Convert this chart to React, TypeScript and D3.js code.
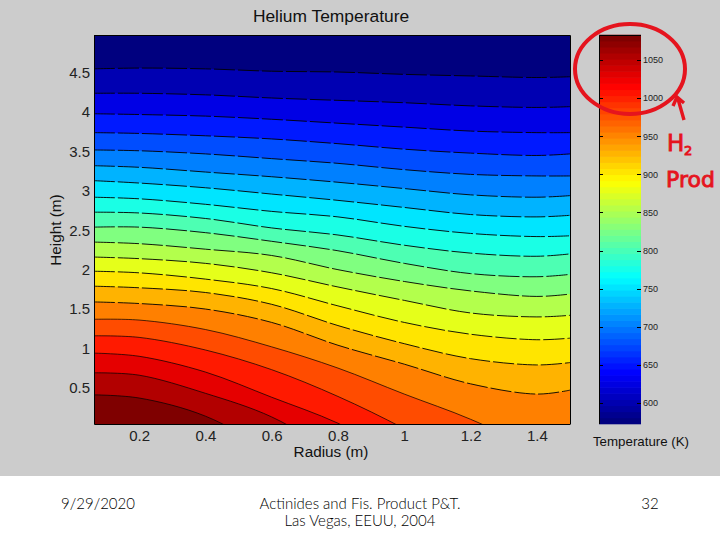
import React, { useEffect, useRef } from "react";
import * as d3 from "d3";

const radii = [0.064, 0.2, 0.4, 0.6, 0.8, 1.0, 1.2, 1.4, 1.5];

// contour heights in metres, top line first; values below the floor get clipped
const contourHeights = [
  [4.55, 4.56, 4.55, 4.52, 4.51, 4.48, 4.46, 4.44, 4.45],
  [4.24, 4.24, 4.22, 4.18, 4.15, 4.12, 4.08, 4.06, 4.07],
  [3.98, 3.97, 3.95, 3.91, 3.86, 3.81, 3.76, 3.74, 3.74],
  [3.74, 3.73, 3.7, 3.66, 3.6, 3.53, 3.48, 3.45, 3.47],
  [3.52, 3.51, 3.47, 3.41, 3.35, 3.27, 3.21, 3.19, 3.19],
  [3.32, 3.3, 3.24, 3.18, 3.11, 3.03, 2.95, 2.92, 2.94],
  [3.13, 3.1, 3.04, 2.96, 2.88, 2.79, 2.7, 2.67, 2.69],
  [2.92, 2.9, 2.83, 2.74, 2.67, 2.55, 2.46, 2.42, 2.43],
  [2.73, 2.72, 2.65, 2.53, 2.44, 2.31, 2.21, 2.17, 2.2],
  [2.54, 2.54, 2.47, 2.36, 2.24, 2.08, 1.95, 1.91, 1.94],
  [2.35, 2.33, 2.26, 2.18, 2.0, 1.85, 1.73, 1.66, 1.69],
  [2.16, 2.14, 2.08, 1.96, 1.78, 1.61, 1.45, 1.4, 1.42],
  [1.98, 1.96, 1.88, 1.76, 1.54, 1.33, 1.18, 1.11, 1.13],
  [1.79, 1.77, 1.71, 1.56, 1.29, 1.06, 0.87, 0.79, 0.82],
  [1.59, 1.57, 1.5, 1.33, 1.04, 0.8, 0.55, 0.42, 0.47],
  [1.37, 1.36, 1.24, 1.02, 0.75, 0.42, 0.1, -0.3, -0.6],
  [1.16, 1.14, 0.98, 0.73, 0.39, -0.02, -0.5, -0.9, -1.1],
  [0.94, 0.9, 0.7, 0.38, 0.05, -0.4, -0.9, -1.4, -1.6],
  [0.69, 0.66, 0.43, 0.13, -0.36, -0.9, -1.4, -1.9, -2.1],
  [0.41, 0.37, 0.14, -0.32, -0.9, -1.4, -1.9, -2.4, -2.6],
];

const radiusTicks = [0.2, 0.4, 0.6, 0.8, 1, 1.2, 1.4];
const heightTicks = [0.5, 1, 1.5, 2, 2.5, 3, 3.5, 4, 4.5];
const temperatureTicks = [600, 650, 700, 750, 800, 850, 900, 950, 1000, 1050];

// matlab jet
const jet = d3
  .scaleLinear<string>()
  .domain([0, 0.125, 0.375, 0.625, 0.875, 1])
  .range(["#00007f", "#0000ff", "#00ffff", "#ffff00", "#ff0000", "#7f0000"]);

const sans = "'Liberation Sans', Arial, sans-serif";
const fmt = (d: d3.NumberValue) => String(+d);

export default function App() {
  const svgRef = useRef<SVGSVGElement | null>(null);

  useEffect(() => {
    const svg = d3.select(svgRef.current);
    svg.selectAll("*").remove();

    svg.append("rect").attr("width", 720).attr("height", 476).attr("fill", "#cccccc");
    svg.append("rect").attr("y", 476).attr("width", 720).attr("height", 64).attr("fill", "#ffffff");

    const x = d3.scaleLinear().domain([0.064, 1.5]).range([94, 570]);
    const y = d3.scaleLinear().domain([0.04, 4.98]).range([424, 35]);

    svg.append("clipPath").attr("id", "plot")
      .append("rect").attr("x", 94).attr("y", 35).attr("width", 476).attr("height", 389);

    const plot = svg.append("g").attr("clip-path", "url(#plot)");
    plot.append("rect").attr("x", 94).attr("y", 35).attr("width", 476).attr("height", 389).attr("fill", jet(0));

    const curve = d3.curveCatmullRom.alpha(0.5);
    const area = d3.area<number>()
      .x((_, i) => x(radii[i]))
      .y0(424)
      .y1(d => y(d))
      .curve(curve);
    const line = d3.line<number>()
      .x((_, i) => x(radii[i]))
      .y(d => y(d))
      .curve(curve);

    // Bands, painted top down, each one reaching to the floor
    contourHeights.forEach((row, i) => {
      plot.append("path").attr("d", area(row)).attr("fill", jet((i + 1) / 20));
    });
    contourHeights.forEach((row, i) => {
      plot.append("path")
        .attr("d", line(row))
        .attr("fill", "none")
        .attr("stroke", "#000")
        .attr("stroke-width", i < 15 ? 0.9 : 0.7)
        .attr("stroke-dasharray", i < 15 ? "21 3" : null);
    });

    // Axes
    const xAxis = svg.append("g")
      .attr("transform", "translate(0,424)")
      .call(d3.axisBottom(x).tickValues(radiusTicks).tickSize(0).tickPadding(6).tickFormat(fmt));
    const yAxis = svg.append("g")
      .attr("transform", "translate(94,0)")
      .call(d3.axisLeft(y).tickValues(heightTicks).tickSize(0).tickPadding(4).tickFormat(fmt));
    [xAxis, yAxis].forEach(a => {
      a.selectAll("text").attr("font-family", sans).attr("font-size", 15).attr("fill", "#222");
      a.select(".domain").attr("stroke", "#000");
    });
    svg.append("path").attr("d", "M94,35.5H570.5V424").attr("fill", "none").attr("stroke", "#000");

    // Colorbar
    const temp = d3.scaleLinear().domain([572.6, 1082.6]).range([424, 35]);
    const cells = d3.scaleBand<number>().domain(d3.range(64)).range([424, 35]);
    svg.append("g").selectAll("rect").data(d3.range(64)).enter().append("rect")
      .attr("x", 599)
      .attr("y", d => cells(d)! - 0.3)
      .attr("width", 42)
      .attr("height", cells.bandwidth() + 0.6)
      .attr("fill", d => jet(d / 63));
    svg.append("path").attr("d", "M599.5,424V35.5H641").attr("fill", "none").attr("stroke", "#000");

    const cbAxis = svg.append("g")
      .attr("transform", "translate(641,0)")
      .call(d3.axisRight(temp).tickValues(temperatureTicks).tickSize(0).tickPadding(2).tickFormat(fmt));
    cbAxis.select(".domain").remove();
    cbAxis.selectAll("text").attr("font-family", sans).attr("font-size", 9).attr("fill", "#222");
    svg.append("g").selectAll("path").data(temperatureTicks).enter().append("path")
      .attr("d", d => `M599,${Math.round(temp(d)) + 0.5}h4M637,${Math.round(temp(d)) + 0.5}h4`)
      .attr("stroke", "#000");

    // Titles
    const label = (text: string, px: number, py: number, size: number, rotate = false) =>
      svg.append("text")
        .attr("transform", `translate(${px},${py})${rotate ? " rotate(-90)" : ""}`)
        .attr("text-anchor", "middle")
        .attr("font-family", sans)
        .attr("font-size", size)
        .attr("fill", "#111")
        .text(text);
    label("Helium Temperature", 331, 22, 17.4);
    label("Radius (m)", 331, 457, 15.3);
    label("Height (m)", 61, 230, 15.3, true);
    label("Temperature (K)", 641, 446, 13.3);

    // Hand drawn note over the colorbar
    const red = "#e5141e";
    svg.append("ellipse")
      .attr("cx", 630).attr("cy", 69).attr("rx", 55).attr("ry", 45)
      .attr("fill", "none").attr("stroke", red).attr("stroke-width", 4);
    svg.append("path")
      .attr("d", "M684,120L678,99M673,106L677,97L684,103")
      .attr("fill", "none").attr("stroke", red).attr("stroke-width", 3.4);
    const note = (text: string, px: number, py: number, size: number) =>
      svg.append("text")
        .attr("x", px).attr("y", py)
        .attr("font-family", "'DejaVu Sans', sans-serif")
        .attr("font-size", size)
        .attr("fill", red)
        .attr("stroke", red)
        .attr("stroke-width", 0.9)
        .text(text);
    note("H", 667, 151, 23);
    note("2", 684, 155, 13);
    note("Prod", 666, 187, 22);

    // Footer
    const foot = (text: string, px: number, py: number) =>
      svg.append("text")
        .attr("x", px).attr("y", py)
        .attr("text-anchor", "middle")
        .attr("font-family", "Lato, 'Noto Sans', sans-serif")
        .attr("font-weight", 300)
        .attr("font-size", 15)
        .attr("fill", "#000")
        .text(text);
    foot("9/29/2020", 98, 509);
    foot("Actinides and Fis. Product P&T.", 360, 509);
    foot("Las Vegas, EEUU, 2004", 360, 526);
    foot("32", 650, 509);
  }, []);

  return (
    <svg
      ref={svgRef}
      width={720}
      height={540}
      style={{ position: "absolute", left: 0, top: 0 }}
    />
  );
}
